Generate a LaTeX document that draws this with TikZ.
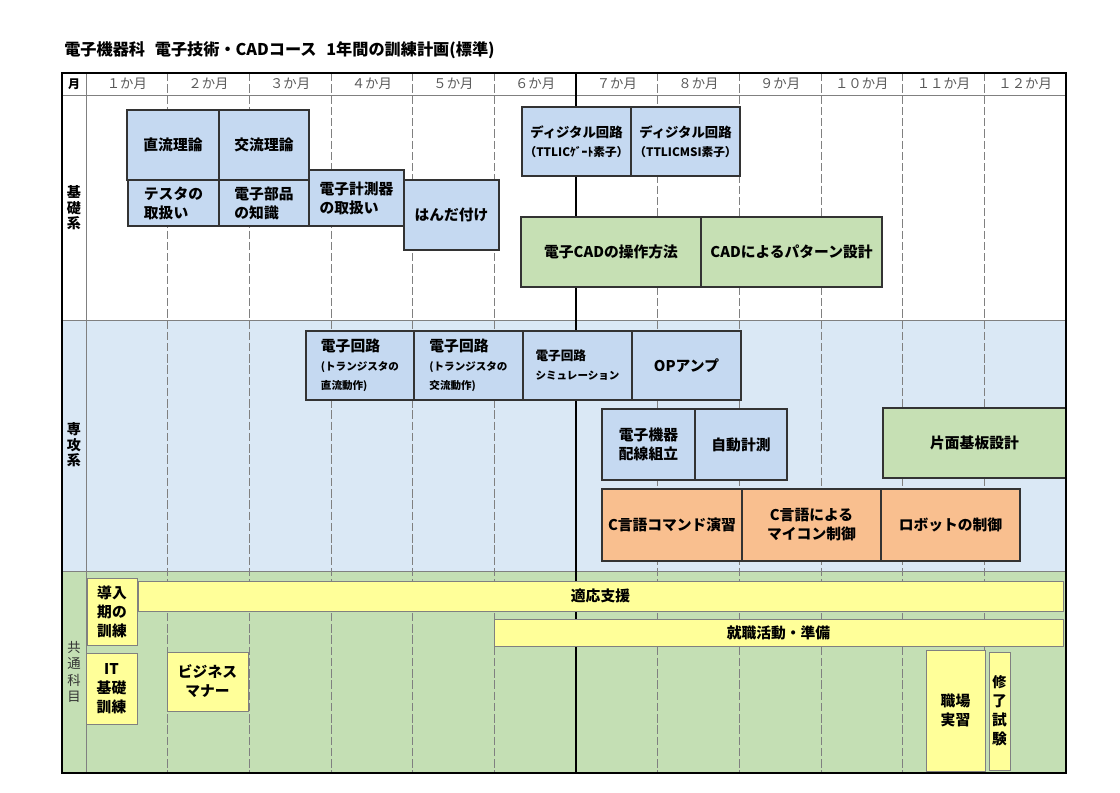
\documentclass[tikz,border=0pt]{standalone}
\usepackage{fontspec}
\setmainfont{Noto Sans CJK JP}
\definecolor{kisoblue}{HTML}{C5D9F1}
\definecolor{senkobg}{HTML}{DAE8F5}
\definecolor{cadgreen}{HTML}{C6E0B4}
\definecolor{kyotsubg}{HTML}{C4DFB4}
\definecolor{corange}{HTML}{F9BF8F}
\definecolor{kyellow}{HTML}{FFFF99}
\definecolor{gridgray}{HTML}{808080}
\definecolor{headgray}{HTML}{595959}
\newcommand{\sm}{\fontsize{7.5}{11}\selectfont}
\newcommand{\smd}{\fontsize{8.3}{12}\selectfont}
% box with its text: [align]{name}{x1}{y1}{x2}{y2}{style}{text}
\newcommand{\cell}[8][center]{%
  \draw[#7] (#3,#4) rectangle (#5,#6);
  \node[celltext, align=#1] (#2) at ({(#3+#5)/2},{(#4+#6)/2}) {#8};}
\tikzset{
  box/.style={draw=black!80, line width=0.9pt},
  kisobox/.style={box, fill=kisoblue},
  cadbox/.style={box, fill=cadgreen},
  cbox/.style={box, fill=corange},
  ybox/.style={draw=gridgray, line width=0.6pt, fill=kyellow},
  celltext/.style={font=\bfseries\fontsize{10.5}{13.5}\selectfont, inner sep=0pt},
  headtext/.style={font=\fontsize{9.5}{11}\selectfont, text=headgray},
  sectext/.style={font=\bfseries\fontsize{10}{11}\selectfont, align=center, inner sep=0pt},
  monthline/.style={gridgray, line width=0.5pt, dash pattern=on 6pt off 2pt},
}
\begin{document}
\begin{tikzpicture}[x=0.025cm,y=-0.025cm]
    \useasboundingbox (0,0) rectangle (1120,792);
    \node[anchor=west, inner sep=0pt, font=\bfseries\fontsize{11.5}{13}\selectfont] (title) at (64,50) {電子機器科\hspace{0.6em}電子技術・CADコース\hspace{0.6em}1年間の訓練計画(標準)};
    % section backgrounds
    \fill[senkobg] (62,320) rectangle (1066,571);
    \fill[kyotsubg] (62,571) rectangle (1066,773);
    \draw[gridgray, line width=0.5pt] (62,95) -- (1066,95) (62,320) -- (1066,320) (62,571) -- (1066,571) (86,73) -- (86,773);
    \foreach \m in {1,2,3,4,5,7,8,9,10,11}
        \draw[monthline] ({86+81.667*\m},73) -- ({86+81.667*\m},773);
    % header row
    \node[sectext, font=\bfseries\fontsize{8.5}{10}\selectfont] (tsuki) at (74,84) {月};
    \foreach \m/\t in {1/１,2/２,3/３,4/４,5/５,6/６,7/７,8/８,9/９,10/１０,11/１１,12/１２}
        \node[headtext] (m\m) at ({86+81.667*(\m-0.5)},84) {\t か月};
    \node[sectext] (kiso) at (74,208) {基\\礎\\系};
    \node[sectext] (senko) at (74,445) {専\\攻\\系};
    \node[sectext, font=\fontsize{9.5}{11.5}\selectfont, text=black!80] (kyotsu) at (74,672) {共\\通\\科\\目};
    \draw[line width=2pt] (576,73) -- (576,773);
    % kiso
    \cell{dcr}{127}{110}{219}{180}{kisobox}{直流理論}
    \cell{acr}{219}{110}{309}{180}{kisobox}{交流理論}
    \cell[left]{tester}{128}{180}{219}{226}{kisobox}{テスタの\\取扱い}
    \cell[left]{buhin}{219}{180}{309}{226}{kisobox}{電子部品\\の知識}
    \cell[left]{keisoku}{309}{170}{404}{226}{kisobox}{電子計測器\\の取扱い}
    \cell{handa}{404}{180}{499}{250}{kisobox}{はんだ付け}
    \cell{gate}{522}{107}{631}{176}{kisobox}{\fontsize{9.5}{13.5}\selectfont ディジタル回路\\\smd（TTLICｹﾞｰﾄ素子）}
    \cell{msi}{631}{107}{740}{176}{kisobox}{\fontsize{9.5}{13.5}\selectfont ディジタル回路\\\smd（TTLICMSI素子）}
    \cell{cadop}{521}{217}{701}{287}{cadbox}{電子CADの操作方法}
    \cell{cadpat}{701}{217}{882}{287}{cadbox}{CADによるパターン設計}
    % senko
    \cell[left]{trdc}{306}{331}{414}{400}{kisobox}{電子回路\\\sm(トランジスタの\\\sm 直流動作)}
    \cell[left]{trac}{414}{331}{523}{400}{kisobox}{電子回路\\\sm(トランジスタの\\\sm 交流動作)}
    \cell[left]{sim}{523}{331}{632}{400}{kisobox}{\fontsize{9}{12}\selectfont 電子回路\\\sm シミュレーション}
    \cell{opamp}{632}{331}{741}{400}{kisobox}{OPアンプ}
    \cell{haisen}{602}{409}{695}{480}{kisobox}{電子機器\\配線組立}
    \cell{jido}{695}{409}{787}{480}{kisobox}{自動計測}
    \cell{kiban}{883}{408}{1066}{478}{cadbox}{片面基板設計}
    \cell{ccmd}{602}{489}{742}{561}{cbox}{C言語コマンド演習}
    \cell{cmicon}{742}{489}{881}{561}{cbox}{C言語による\\マイコン制御}
    \cell{robot}{881}{489}{1020}{561}{cbox}{ロボットの制御}
    % kyotsu
    \cell{donyu}{87}{578}{137}{645}{ybox}{導入\\期の\\訓練}
    \cell{tekio}{138}{581}{1063}{611}{ybox}{適応支援}
    \cell{shushoku}{494}{619}{1063}{646}{ybox}{就職活動・準備}
    \cell{it}{86}{653}{137}{724}{ybox}{IT\\基礎\\訓練}
    \cell{manner}{167}{652}{248}{711}{ybox}{ビジネス\\マナー}
    \cell{jisshu}{926}{650}{985}{771}{ybox}{職場\\実習}
    \cell{shuryo}{989}{652}{1010}{770}{ybox}{\fontsize{10}{16}\selectfont 修\\了\\試\\験}
    \draw[line width=2pt] (62,73) rectangle (1066,773);
\end{tikzpicture}
\end{document}
